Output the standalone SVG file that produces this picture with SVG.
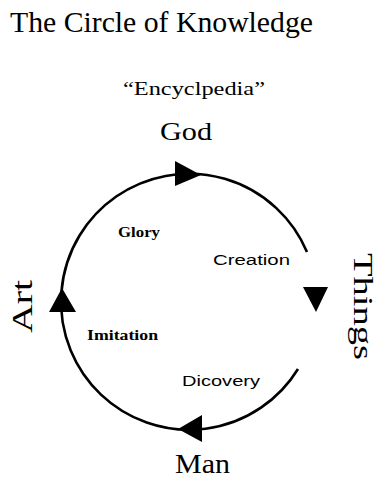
<svg xmlns="http://www.w3.org/2000/svg" width="378" height="478" viewBox="0 0 378 478">
<style>
.serif{font-family:"Liberation Serif","Times New Roman",serif;fill:#000}
.sans{font-family:"Liberation Sans",Arial,sans-serif;fill:#000}
.arc{fill:none;stroke:#000;stroke-width:2.6}
.head{fill:#000}
</style>
<rect width="378" height="478" fill="#fff"/>
<g id="title"><text class="serif" x="10" y="32" font-size="29" textLength="303" lengthAdjust="spacingAndGlyphs">The Circle of Knowledge</text></g>
<g id="encyclopedia"><text class="serif" x="123" y="95" font-size="18" textLength="142" lengthAdjust="spacingAndGlyphs">“Encyclpedia”</text></g>
<g id="god"><text class="serif" x="160" y="140" font-size="26" textLength="52" lengthAdjust="spacingAndGlyphs">God</text></g>
<g id="man"><text class="serif" x="175" y="473" font-size="27" textLength="55" lengthAdjust="spacingAndGlyphs">Man</text></g>
<g id="art"><text class="serif" transform="translate(32,333) rotate(-90)" x="0" y="0" font-size="30" textLength="53" lengthAdjust="spacingAndGlyphs">Art</text></g>
<g id="things"><text class="serif" transform="translate(354,253) rotate(90)" x="0" y="0" font-size="27" textLength="107" lengthAdjust="spacingAndGlyphs">Things</text></g>
<g id="connectors">
<path class="arc" d="M 307 252 A 128 128 0 1 0 298 369"/>
<polygon class="head" points="175,161 175,186 201,175"/>
<polygon class="head" points="303,287 328,287 316,312"/>
<polygon class="head" points="202,415 202,442 178,429"/>
<polygon class="head" points="49,312 76,312 62,288"/>
</g>
<g id="labels">
<text class="serif" x="118" y="237" font-size="14" textLength="42" lengthAdjust="spacingAndGlyphs" font-weight="bold">Glory</text>
<text class="sans" x="213" y="265" font-size="14" textLength="77" lengthAdjust="spacingAndGlyphs">Creation</text>
<text class="serif" x="87" y="340" font-size="14" textLength="71" lengthAdjust="spacingAndGlyphs" font-weight="bold">Imitation</text>
<text class="sans" x="182" y="386" font-size="14" textLength="78" lengthAdjust="spacingAndGlyphs">Dicovery</text>
</g>
</svg>
